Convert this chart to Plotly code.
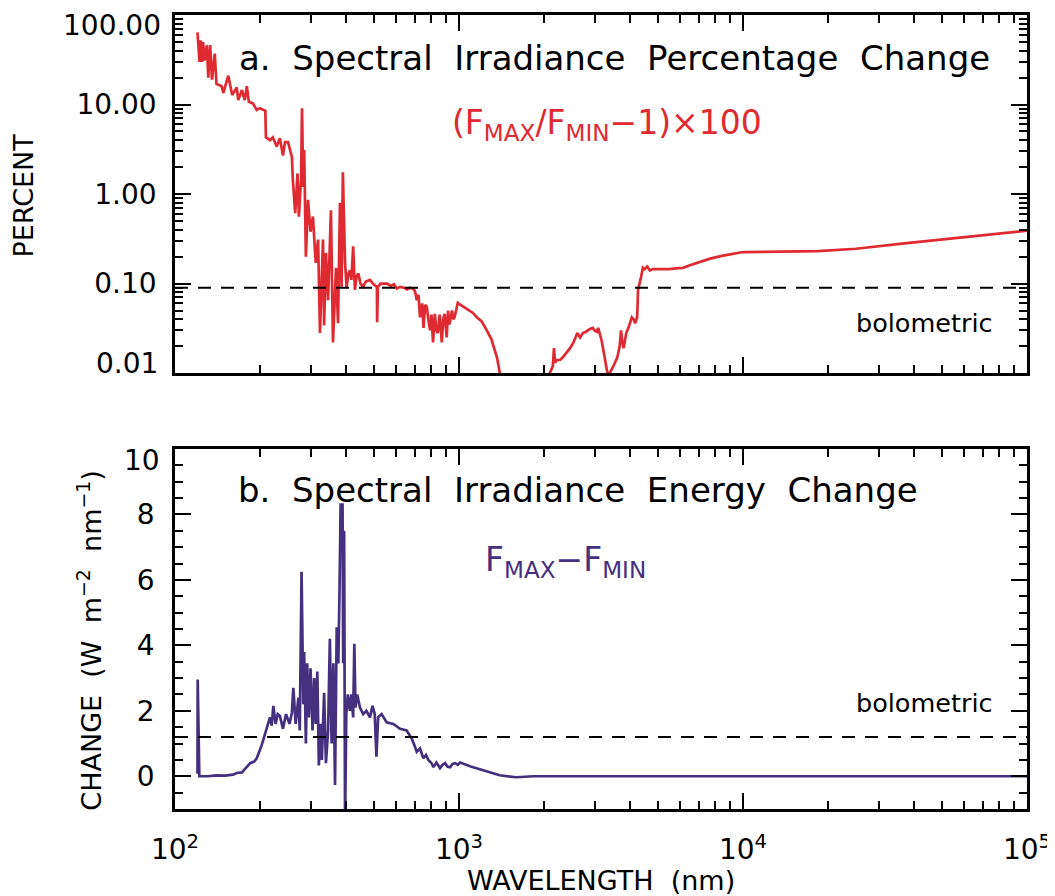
import plotly.graph_objects as go

# ---------------- data ----------------
wl_pct = [120, 122, 123, 124.5, 125.5, 127, 129.5, 131, 133, 135, 138, 140, 146, 148, 154, 159, 165, 167,
          172, 176, 179, 182, 188, 194, 199, 205, 208, 209, 216, 221, 228, 234, 240, 244, 250, 258, 260,
          265, 270, 273, 278, 280, 283, 285, 289, 294, 300, 306, 313, 319, 324, 332, 335, 340, 346, 354,
          360, 369, 375, 381, 386, 390, 397, 402, 408, 413, 418, 424, 430, 436, 442, 450, 459, 470, 486,
          500, 514, 515, 518, 530, 540, 558, 575, 590, 604, 620, 640, 656, 672, 690, 700, 710, 720, 729,
          742, 750, 760, 770, 780, 791, 800, 810, 822, 832, 842, 855, 870, 880, 890, 905, 915, 925, 945,
          955, 965, 980, 990, 1010, 1034, 1080, 1120, 1155, 1200, 1253, 1300, 1360, 1390, 1450, 1700,
          2000, 2091, 2140, 2160, 2180, 2200, 2270, 2320, 2400, 2460, 2530, 2610, 2670, 2730, 2800, 2880,
          2960, 3000, 3060, 3090, 3180, 3240, 3300, 3330, 3360, 3400, 3500, 3610, 3680, 3720, 3760, 3800,
          3880, 3950, 4060, 4120, 4170, 4240, 4270, 4330, 4380, 4440, 4500, 4600, 4700, 4800, 4960, 5200,
          5510, 5800, 6150, 6500, 6890, 7660, 8500, 10000, 18400, 25000, 36300, 60000, 100000]
pct = [64, 30, 52, 30, 50, 31, 46, 20, 46, 19, 37, 17, 16, 13.5, 21, 12.8, 15.5, 11.2,
       14.5, 11.2, 16, 10.7, 10.3, 8.7, 9.1, 8.7, 8.5, 4.3, 4.0, 4.3, 3.4, 4.2, 2.7, 3.8, 3.8, 2.6, 1.43,
       0.61, 1.7, 0.56, 1.5, 9.1, 1.2, 3.1, 0.2, 0.86, 0.38, 0.56, 0.17, 0.31, 0.028, 0.31, 0.034, 0.22,
       0.065, 0.66, 0.022, 0.15, 0.036, 0.8, 0.092, 1.75, 0.17, 0.092, 0.13, 0.14, 0.11, 0.26, 0.085,
       0.12, 0.13, 0.10, 0.092, 0.105, 0.11, 0.098, 0.092, 0.037, 0.092, 0.10, 0.10, 0.10, 0.094, 0.098,
       0.088, 0.092, 0.09, 0.086, 0.09, 0.087, 0.082, 0.065, 0.075, 0.042, 0.06, 0.032, 0.058, 0.055,
       0.04, 0.030, 0.045, 0.022, 0.046, 0.03, 0.028, 0.045, 0.022, 0.04, 0.046, 0.025, 0.05, 0.035,
       0.05, 0.04, 0.042, 0.055, 0.061, 0.058, 0.055, 0.05, 0.047, 0.042, 0.038, 0.030, 0.024, 0.015,
       0.0101, 0.005, 0.003, 0.005, 0.0101, 0.012, 0.019, 0.013, 0.014, 0.014, 0.015, 0.017, 0.019,
       0.022, 0.028, 0.025, 0.028, 0.029, 0.031, 0.032, 0.03, 0.029, 0.032, 0.023, 0.017, 0.012, 0.0101,
       0.006, 0.0101, 0.012, 0.015, 0.02, 0.030, 0.022, 0.019, 0.028, 0.032, 0.042, 0.04, 0.036, 0.042,
       0.085, 0.10, 0.12, 0.15, 0.145, 0.155, 0.14, 0.145, 0.145, 0.147, 0.145, 0.148, 0.15, 0.16, 0.17,
       0.19, 0.205, 0.225, 0.23, 0.245, 0.28, 0.33, 0.39]

wl_chg = [120, 120.2, 121.8, 130, 140, 150, 160, 165, 172, 179, 184, 190, 194, 202, 210, 216, 219, 222,
          226, 230, 234, 240, 246, 250, 253, 258, 261, 266, 272, 275, 279, 283, 285, 289, 292, 296, 300,
          305, 309, 313, 317, 321, 326, 329, 335, 340, 346, 351, 356, 361, 366, 371, 376, 380, 383, 389,
          391, 394, 397, 401, 406, 413, 418, 424, 428, 432, 438, 448, 460, 472, 486, 496, 505, 512, 519,
          534, 556, 587, 620, 654, 682, 700, 710, 729, 749, 765, 780, 800, 813, 833, 857, 875, 894, 910,
          930, 950, 969, 990, 1008, 1100, 1215, 1390, 1590, 1830, 2390, 7070, 100000]
chg = [0.08, 2.96, 0.0, 0.0, 0.03, 0.02, 0.05, 0.1, 0.12, 0.28, 0.4, 0.45, 0.55, 0.95, 1.45, 1.8, 1.55,
       2.15, 1.6, 1.9, 1.85, 1.45, 1.9, 1.7, 1.6, 1.95, 2.7, 1.6, 2.4, 1.4, 6.25, 2.2, 3.8, 1.0, 3.45,
       1.8, 3.3, 1.4, 3.0, 1.6, 3.2, 0.33, 1.6, 0.5, 2.55, 0.4, 1.4, 4.2, 1.0, 3.45, -0.27, 4.55, 3.45,
       6.0, 8.3, 8.3, 3.45, 7.5, -1.5, 1.9, 2.5, 2.0, 2.5, 1.8, 4.05, 2.1, 2.5, 2.1, 1.9, 2.0, 1.8, 2.15,
       1.9, 0.6, 1.8, 1.9, 1.65, 1.6, 1.45, 1.4, 1.15, 0.9, 0.75, 0.85, 0.55, 0.65, 0.5, 0.4, 0.28, 0.42,
       0.25, 0.35, 0.4, 0.3, 0.28, 0.38, 0.4, 0.35, 0.42, 0.3, 0.18, 0.03, -0.03, 0.0, 0.0, 0.0, 0.0]

bolo_pct = 0.09
bolo_chg = 1.2

x_major = [100, 1000, 10000, 100000]
x_labels = ["10<sup>2</sup>", "10<sup>3</sup>", "10<sup>4</sup>", "10<sup>5</sup>"]
y1_major = [0.01, 0.1, 1, 10, 100]
y1_labels = ["0.01", "0.10", "1.00", "10.00", "100.00"]
y2_major = [0, 2, 4, 6, 8, 10]
y2_labels = ["0", "2", "4", "6", "8", "10"]

RED = "#E02A32"
PURPLE = "#45307F"
FONT = "DejaVu Sans"

def log_minors(lo_exp, hi_exp):
    return [m * 10 ** e for e in range(lo_exp, hi_exp) for m in range(2, 10)]

x_minor = log_minors(2, 5)
y1_minor = log_minors(-2, 2)
y2_minor = [v / 2 for v in range(-2, 21) if v % 4 != 0]

# labels drawn by the axis (end labels are nudged inward in the reference: drawn separately)
def merged(major, labels, minors, skip=()):
    vals, texts = [], []
    for v, t in zip(major, labels):
        vals.append(v)
        texts.append("" if t in skip else t)
    for v in minors:
        vals.append(v)
        texts.append("")
    return vals, texts

xv, xt = merged(x_major, x_labels, x_minor)
y1v, y1t = merged(y1_major, y1_labels, y1_minor, skip=("100.00", "0.01"))
y2v, y2t = merged(y2_major, y2_labels, y2_minor, skip=("10",))

fig = go.Figure()
fig.add_trace(go.Scatter(x=wl_pct, y=pct, mode="lines", line=dict(color=RED, width=2.7),
                         xaxis="x2", yaxis="y2", showlegend=False))
fig.add_trace(go.Scatter(x=[100, 100000], y=[bolo_pct, bolo_pct], mode="lines",
                         line=dict(color="black", width=2, dash="13px,10px"),
                         xaxis="x2", yaxis="y2", showlegend=False))
fig.add_trace(go.Scatter(x=wl_chg, y=chg, mode="lines", line=dict(color=PURPLE, width=2.7),
                         xaxis="x", yaxis="y", showlegend=False))
fig.add_trace(go.Scatter(x=[100, 100000], y=[bolo_chg, bolo_chg], mode="lines",
                         line=dict(color="black", width=2, dash="13px,10px"),
                         xaxis="x", yaxis="y", showlegend=False))
# empty traces so that the overlay axes carrying the long major ticks are drawn
for xa, ya in (("x3", "y"), ("x", "y3"), ("x4", "y2"), ("x2", "y4")):
    fig.add_trace(go.Scatter(x=[], y=[], xaxis=xa, yaxis=ya, showlegend=False, hoverinfo="skip"))

common = dict(showline=True, linecolor="black", linewidth=2.5, mirror="ticks",
              ticks="inside", tickwidth=2, tickcolor="black",
              showgrid=False, zeroline=False, automargin=False, ticklabeloverflow="allow",
              tickfont=dict(family=FONT, size=28, color="black"))

def short(**kw):
    d = dict(common, ticklen=8, tickmode="array")
    d.update(kw)
    return d

def long_(**kw):
    d = dict(common, ticklen=16, tickmode="array", showticklabels=False)
    d.update(kw)
    return d

# the page body adds an 8px margin, so the figure is 8px smaller and shifted
fig.update_layout(
    template="none",
    width=1047, height=888,
    margin=dict(l=167, r=28, t=7, b=87, autoexpand=False),
    plot_bgcolor="white", paper_bgcolor="white",
    xaxis=short(type="log", range=[2, 5], anchor="y", domain=[0, 1],
                tickvals=xv, ticktext=xt, ticklabelstandoff=14),
    yaxis=short(range=[-1, 10], anchor="x", domain=[0, 0.4534],
                tickvals=y2v, ticktext=y2t, ticklabelstandoff=12),
    xaxis2=short(type="log", range=[2, 5], anchor="y2", domain=[0, 1],
                 tickvals=xv, showticklabels=False),
    yaxis2=short(type="log", range=[-2, 2], anchor="x2", domain=[0.549, 1],
                 tickvals=y1v, ticktext=y1t, ticklabelstandoff=10),
    xaxis3=long_(type="log", range=[2, 5], anchor="y", overlaying="x", tickvals=x_major),
    yaxis3=long_(range=[-1, 10], anchor="x", overlaying="y", tickvals=y2_major),
    xaxis4=long_(type="log", range=[2, 5], anchor="y2", overlaying="x2", tickvals=x_major),
    yaxis4=long_(type="log", range=[-2, 2], anchor="x2", overlaying="y2", tickvals=y1_major),
)

def ann(text, x, y, size, color="black", angle=0, xanchor="center"):
    fig.add_annotation(text=text, x=x, y=y, xref="paper", yref="paper", showarrow=False,
                       xanchor=xanchor, yanchor="middle", textangle=angle,
                       font=dict(family=FONT, size=size, color=color))

ann("a.  Spectral  Irradiance  Percentage  Change", 0.516, 0.946, 34)
ann("(F<sub>MAX</sub>/F<sub>MIN</sub>−1)×100", 0.507, 0.862, 33, RED)
ann("bolometric", 0.880, 0.612, 25.5)
ann("b.  Spectral  Irradiance  Energy  Change", 0.473, 0.402, 34)
ann("F<sub>MAX</sub>−F<sub>MIN</sub>", 0.458, 0.312, 33, PURPLE)
ann("bolometric", 0.880, 0.1335, 25.5)
ann("PERCENT", -0.178, 0.773, 27, angle=-90)
ann("CHANGE  (W  m<sup>−2</sup>  nm<sup>−1</sup>)", -0.10, 0.213, 27, angle=-90)
ann("WAVELENGTH  (nm)", 0.5, -0.09, 27)
# end tick labels, nudged inside the frame as in the reference
ann("100.00", -0.0141, 0.9868, 28, xanchor="right")
ann("0.01", -0.0176, 0.5605, 28, xanchor="right")
ann("10", -0.0153, 0.4395, 28, xanchor="right")

fig.write_html("out.html")
